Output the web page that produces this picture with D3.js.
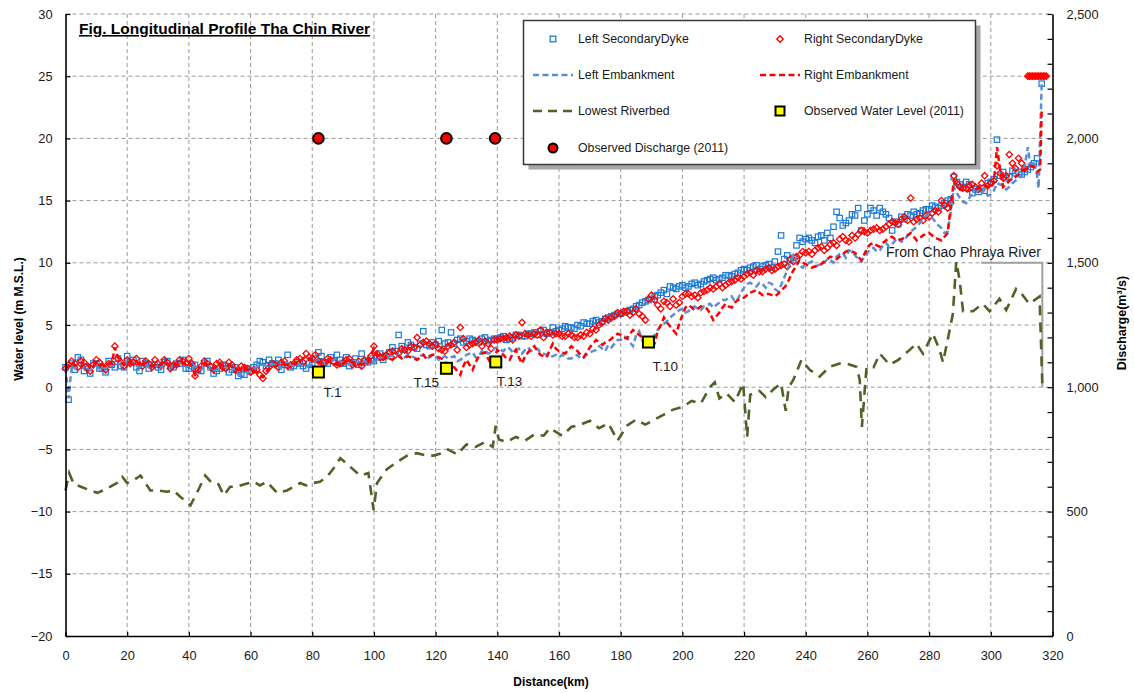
<!DOCTYPE html>
<html>
<head>
<meta charset="utf-8">
<script src="https://cdn.jsdelivr.net/npm/d3@7"></script>
<style>
  html, body { margin: 0; padding: 0; background: #fff; }
  svg { display: block; font-family: "Liberation Sans", Arial, Helvetica, sans-serif; }
</style>
</head>
<body>
<svg id="chart" width="1134" height="693"></svg>
<script>
// ---- Survey stations (km from river mouth), even chainages ----
const stationKm = [
  0,1,2,4,6,8,10,12,14,16,18,
  20,22,24,26,28,30,32,34,36,38,
  40,42,44,46,48,50,52,54,56,58,
  60,62,64,66,68,70,72,74,76,78,
  80,82,84,86,88,90,92,94,96,98,
  100,102,104,106,108,110,112,114,116,118,
  120,122,124,126,128,130,132,134,136,138,
  140,142,144,146,148,150,152,154,156,158,
  160,162,164,166,168,170,172,174,176,178,
  180,182,184,186,188,190,192,194,196,198,
  200,202,204,206,208,210,212,214,216,218,
  220,222,224,226,228,230,232,234,236,238,
  240,242,244,246,248,250,252,254,256,258,
  260,262,264,266,268,270,272,274,276,278,
  280,282,284,286,288,290,292,294,296,298,
  300,302,304,306,308,310,
  311,312,312.5,313,313.5,314,314.5,315,315.5,316,316.5,317,317.5,318
];
// Intermediate (odd) chainages
const infillKm = [
  3,5,7,9,11,13,15,17,19,
  21,23,25,27,29,31,33,35,37,39,
  41,43,45,47,49,51,53,55,57,59,
  61,63,65,67,69,71,73,75,77,79,
  81,83,85,87,89,91,93,95,97,99,
  101,103,105,107,109,111,113,115,117,119,
  121,123,125,127,129,131,133,135,137,139,
  141,143,145,147,149,151,153,155,157,159,
  161,163,165,167,169,171,173,175,177,179,
  181,183,185,187,189,191,193,195,197,199,
  201,203,205,207,209,211,213,215,217,219,
  221,223,225,227,229,231,233,235,237,239,
  241,243,245,247,249,251,253,255,257,259,
  261,263,265,267,269,271,273,275,277,279,
  281,283,285,287,289,291,293,295,297,299,
  301,303,305,307,309
];

// Crest levels (m M.S.L.); null = no survey at that station
const leftDyke = [
  1.6,-1.0,1.9,2.4,1.3,1.1,1.9,1.5,2.1,1.6,1.7,
  2.5,2.2,1.3,1.9,1.8,1.6,2.0,1.7,1.9,2.2,
  1.5,1.8,1.3,2.1,1.1,1.5,1.7,1.4,0.9,1.0,
  1.3,1.8,2.0,2.2,1.9,1.4,2.6,1.7,1.9,1.5,
  1.8,2.8,2.0,2.4,2.6,1.9,1.7,2.3,2.7,2.0,
  2.1,2.7,2.5,3.2,4.2,3.0,3.4,3.1,4.5,3.3,
  3.4,4.6,3.6,3.5,3.9,3.7,3.8,3.6,4.0,3.8,
  3.9,4.1,3.9,4.2,4.1,4.3,4.4,4.5,4.3,4.8,
  4.6,4.9,4.8,5.0,5.2,5.1,5.4,5.3,5.6,5.8,
  5.9,6.1,6.3,6.6,6.9,7.1,7.4,7.8,8.1,7.9,
  8.2,8.1,8.4,8.3,8.6,8.8,8.7,9.0,8.9,9.2,
  9.5,9.6,9.8,9.7,9.9,10.1,12.2,10.6,10.4,12.0,
  11.9,11.8,12.1,11.8,12.0,14.1,13.0,13.4,13.8,12.6,
  13.9,14.2,14.4,13.9,12.6,13.1,13.5,13.8,13.9,14.2,
  14.3,14.5,14.6,15.0,16.9,16.3,16.5,15.6,15.7,15.8,
  16.5,19.9,17.3,16.9,17.2,17.1,
  17.3,17.5,null,17.7,null,18.0,null,18.4,null,null,24.4,null,null,null
];
const leftDykeInfill = [
  1.4,2.2,1.6,1.9,1.5,1.2,1.8,2.3,1.6,
  2.0,1.6,2.1,1.5,1.8,1.4,2.1,1.6,1.9,1.5,
  1.7,1.4,1.9,1.6,1.3,1.8,1.2,1.6,1.1,1.5,
  1.6,2.1,1.7,1.9,2.2,1.8,1.6,2.0,1.7,1.9,
  2.3,2.5,1.9,2.1,2.2,2.4,2.0,1.8,2.1,2.3,
  2.4,2.2,2.8,2.9,3.3,3.6,3.2,3.5,3.4,3.6,
  3.7,3.5,4.4,3.8,3.6,3.9,3.7,3.9,3.7,3.9,
  4.0,3.8,4.0,4.2,4.1,4.3,4.2,4.6,4.4,4.5,
  4.7,4.8,4.7,4.9,5.1,5.3,5.2,5.5,5.7,5.9,
  6.0,6.2,6.5,6.8,7.0,7.3,7.6,7.5,8.0,8.1,
  8.0,8.3,8.2,8.5,8.7,8.6,8.8,9.0,9.1,9.4,
  9.4,9.7,9.5,9.8,9.6,10.9,10.3,10.2,11.4,11.7,
  12.0,11.6,12.2,12.4,12.9,13.6,13.2,13.9,14.4,13.4,
  14.4,13.8,14.1,13.6,13.3,13.7,13.9,14.1,14.0,14.3,
  14.6,14.4,14.8,15.1,16.5,16.1,16.3,15.9,16.0,16.4,
  16.7,17.0,16.8,17.4,17.3
];

const rightDyke = [
  1.5,1.8,2.1,1.6,2.0,1.3,2.2,1.7,1.9,3.3,2.0,
  2.2,2.0,1.8,2.1,1.6,1.9,2.2,1.5,1.8,2.1,
  2.3,0.9,1.7,1.9,1.4,2.0,1.5,1.8,1.3,1.6,
  1.2,1.4,0.7,1.6,1.8,2.0,1.7,1.9,2.3,2.7,
  2.3,2.1,1.9,2.2,1.8,2.0,2.3,1.9,1.7,2.1,
  3.3,2.4,2.6,2.9,2.7,3.0,3.3,4.0,3.6,3.5,
  3.5,3.0,3.3,3.6,4.8,3.2,3.5,3.8,3.7,3.1,
  3.8,3.9,4.1,4.2,5.2,4.2,4.3,4.6,4.4,4.2,
  4.3,4.1,4.2,4.0,4.1,4.3,4.6,5.2,5.4,5.7,
  5.9,6.1,6.0,5.9,5.4,7.4,6.6,6.9,6.5,6.6,
  7.3,7.5,7.4,7.6,7.8,7.9,8.3,8.2,8.5,8.8,
  8.9,9.2,9.4,9.3,9.6,9.5,9.8,9.7,10.1,10.6,
  10.8,10.7,11.2,11.0,11.5,11.4,12.1,11.7,12.0,12.6,
  12.4,12.7,12.6,12.9,13.3,13.1,13.7,15.2,13.5,13.4,
  13.7,14.2,15.0,14.4,17.0,16.1,16.0,16.3,15.9,17.0,
  16.4,17.8,16.8,18.7,17.6,18.0,
  17.6,25,25,25,25,25,25,25,25,25,25,25,25,25
];
const rightDykeInfill = [
  1.9,2.1,1.5,1.8,2.0,1.4,1.9,2.3,1.7,
  1.9,2.3,1.7,1.9,2.2,1.7,2.0,1.8,2.2,1.9,
  1.9,1.4,2.1,1.7,1.9,1.6,2.0,1.4,1.7,1.5,
  1.4,1.0,1.3,1.9,1.6,2.1,1.8,2.2,2.0,2.4,
  2.6,2.0,2.3,2.0,1.9,2.2,1.8,2.1,2.2,2.5,
  2.7,2.5,2.8,2.6,3.1,2.9,3.2,3.4,3.7,3.3,
  3.1,2.9,3.4,3.0,3.9,3.4,3.6,3.3,3.5,3.8,
  3.9,4.0,3.8,4.1,4.3,4.1,4.2,4.0,4.4,4.3,
  4.1,4.3,4.0,4.2,4.4,4.7,5.0,5.5,5.6,6.0,
  6.1,5.8,6.3,5.7,7.1,7.0,6.3,6.8,7.1,6.8,
  7.5,7.3,7.2,7.7,8.0,8.1,8.0,8.4,8.6,8.7,
  9.1,9.0,9.3,9.5,9.4,9.7,9.9,10.3,10.5,10.9,
  10.9,11.0,11.3,11.2,11.6,11.9,11.8,12.2,12.3,12.5,
  12.6,12.8,12.7,13.1,13.2,13.5,13.4,13.3,13.6,13.8,
  14.0,14.1,14.6,14.8,16.4,16.0,16.2,16.1,16.4,16.2,
  16.6,17.2,17.0,18.0,18.4
];

const leftEmbankment = [
  1.6,-0.9,1.7,1.9,1.5,1.4,1.7,1.6,1.8,1.7,1.8,
  2.2,2.0,1.6,1.8,1.7,1.6,1.9,1.7,1.8,2.0,
  1.6,1.7,1.4,1.8,1.3,1.5,1.6,1.4,1.0,1.1,
  1.3,1.6,1.8,1.9,1.8,1.5,2.1,1.7,1.8,1.6,
  1.8,2.2,2.0,2.1,2.3,1.9,1.8,2.1,2.2,2.0,
  2.0,2.4,2.3,2.5,2.6,2.4,2.5,2.3,2.6,2.4,
  2.5,2.4,2.3,2.5,2.2,2.6,2.8,2.5,3.0,2.8,
  3.2,2.9,3.1,3.0,2.7,3.2,3.0,2.8,2.6,2.5,
  2.4,2.5,2.3,2.6,2.4,2.8,3.0,3.1,3.4,3.5,
  3.8,4.0,3.3,4.5,4.0,3.6,4.6,5.1,5.6,6.0,
  6.3,6.1,6.5,6.2,6.6,6.4,6.8,7.0,7.3,7.1,
  8.0,8.4,8.1,8.3,8.4,7.9,8.2,9.4,10.6,9.8,
  9.9,10.1,9.8,10.0,10.2,10.5,10.8,11.0,10.6,10.1,
  10.8,11.2,11.0,11.6,11.5,12.0,11.8,12.5,12.9,13.5,
  13.9,13.3,12.8,12.5,16.1,15.2,14.8,15.6,15.7,15.9,
  15.5,16.4,16.2,16.1,16.6,17.0,
  17.8,19.3,null,17.5,null,18.2,null,17.0,16.0,null,24.4,null,null,null
];
const leftEmbankmentInfill = [
  1.5,1.8,1.6,1.7,1.4,1.5,1.7,1.9,1.6,
  1.9,1.7,1.8,1.6,1.8,1.5,1.8,1.6,1.9,1.7,
  1.6,1.5,1.7,1.6,1.4,1.7,1.4,1.5,1.1,1.2,
  1.5,1.9,1.7,1.8,1.9,1.7,1.8,1.9,1.7,1.8,
  2.0,2.1,1.9,2.2,2.1,2.0,1.9,2.0,2.1,2.1,
  2.2,2.3,2.5,2.4,2.3,2.6,2.4,2.5,2.3,2.6,
  2.2,2.5,2.4,2.1,2.4,2.7,2.4,2.9,2.7,3.1,
  3.0,3.2,2.8,3.1,3.0,2.9,3.1,2.7,2.4,2.6,
  2.6,2.3,2.5,2.3,2.6,2.9,3.3,2.9,3.2,3.8,
  4.1,3.6,4.2,3.8,3.5,4.2,4.9,5.3,5.8,6.2,
  6.0,6.4,6.3,6.5,6.7,6.6,7.0,7.2,6.9,7.6,
  8.3,8.2,8.4,8.0,8.3,7.7,8.8,10.0,10.1,9.6,
  10.0,9.7,9.9,10.3,10.0,10.7,10.4,10.9,10.3,10.5,
  11.1,10.9,11.4,11.3,11.8,11.7,12.2,12.7,13.2,13.8,
  13.6,13.0,12.4,14.0,15.6,14.9,15.2,15.9,15.6,15.4,
  15.8,16.3,15.9,16.4,16.8
];

const rightEmbankment = [
  1.5,1.7,2.0,1.7,1.9,1.5,2.0,1.8,1.9,3.2,2.0,
  2.1,2.0,1.8,2.0,1.7,1.9,2.1,1.6,1.8,2.0,
  2.1,1.0,1.7,1.8,1.5,1.9,1.6,1.7,1.4,1.6,
  1.3,1.2,0.8,1.5,1.7,1.9,1.8,1.9,2.1,2.5,
  2.2,2.0,1.9,2.1,1.8,1.9,2.2,1.9,1.8,2.0,
  3.1,2.3,2.4,2.2,2.5,2.3,2.4,2.2,2.6,2.5,
  2.6,2.3,1.9,1.6,1.0,2.2,1.4,2.5,2.8,1.9,
  3.0,2.6,2.2,3.0,1.9,2.8,3.3,2.6,2.4,3.5,
  2.9,2.7,3.3,2.9,2.4,3.2,3.8,3.4,3.7,4.1,
  4.2,3.9,4.6,4.2,3.8,3.3,4.5,5.6,4.9,4.3,
  5.8,6.6,6.2,6.5,6.3,5.4,6.0,6.7,6.4,7.0,
  7.2,7.6,7.8,7.4,7.5,7.3,7.8,8.3,9.4,10.2,
  9.9,9.6,9.8,10.1,10.5,10.3,10.7,11.0,10.8,10.2,
  11.2,11.6,11.3,11.8,12.1,11.8,12.0,12.4,11.8,12.2,
  12.4,12.0,11.8,12.4,16.6,15.9,15.7,15.9,16.0,16.2,
  16.0,19.3,16.1,16.6,16.9,17.4,
  17.5,17.6,null,17.8,null,17.7,null,17.3,null,17.5,22.3,null,null,null
];
const rightEmbankmentInfill = [
  1.8,1.6,2.0,1.7,1.8,1.6,1.9,2.4,1.8,
  1.9,2.1,1.7,1.9,1.8,1.8,1.9,1.7,1.9,1.8,
  1.6,1.4,1.9,1.6,1.7,1.7,1.8,1.5,1.5,1.4,
  1.2,1.0,1.2,1.6,1.8,1.8,1.9,2.0,2.3,2.3,
  2.1,2.0,2.0,1.9,2.0,2.1,2.0,1.9,1.9,2.6,
  2.6,2.2,2.3,2.4,2.3,2.5,2.3,2.4,2.3,2.6,
  2.4,2.0,1.7,1.3,1.7,1.8,2.0,2.7,2.3,2.4,
  2.8,2.3,2.7,2.4,2.5,3.1,2.9,2.5,3.0,3.1,
  2.8,3.0,3.1,2.6,2.8,3.5,3.6,3.6,3.9,4.3,
  4.0,4.3,4.4,4.0,3.5,3.5,5.0,5.2,4.6,5.1,
  6.4,6.4,6.3,6.4,5.9,5.7,6.4,6.5,6.8,7.1,
  7.4,7.7,7.6,7.5,7.4,7.5,8.0,8.9,9.8,10.0,
  9.7,9.7,9.9,10.3,10.4,10.5,10.9,10.9,10.5,10.7,
  11.5,11.4,11.6,12.0,11.9,11.9,12.2,12.1,12.0,12.3,
  12.2,11.9,12.1,14.5,16.2,15.8,15.8,15.9,16.1,16.1,
  16.5,17.5,16.3,16.8,17.1
];

// Lowest riverbed profile
const riverbedKm = [
  0,1.2,2.7,5,8.1,10.3,13,16.7,18.4,20,23.2,24.3,27.5,30,32.9,35,37.2,40.5,42.6,45.3,
  47.5,49.6,51.3,53.4,55.5,58,61,63,65.3,68.6,71.8,74,76.1,78,80.4,82.5,84.8,87,89.1,92.3,
  95.5,98.2,99.9,101,104.2,107,110.7,113.9,117,119.3,122,124,127,130,133,136,138.5,139.5,140.5,143,
  146,149,152,155,157,159,161,164,167,170,173,176,179,182,185,188,191,194,197,200,
  203,206,208.9,210.5,212,214.3,217,219.7,221,222,225,227,229.4,232,233.5,234.5,236,238.6,241.3,244.5,
  247.8,251,253.2,256.4,257.5,258.2,259.7,262,264,267.2,270,273.7,275.9,278,281.2,283.4,284.5,286.1,287.7,288.8,
  289.9,291,294.2,297.4,299.6,302.8,305,308.2,310,312.5,315.8,316.7
];
const riverbedLevel = [
  -8.3,-6.9,-7.8,-8.0,-8.3,-8.5,-8.2,-7.7,-7.2,-7.7,-7.3,-7.1,-8.3,-8.3,-8.4,-8.3,-8.8,-9.5,-8.5,-7.1,
  -7.7,-7.8,-8.7,-8.0,-8.0,-7.8,-7.6,-7.9,-7.6,-8.5,-8.3,-8.0,-7.7,-7.9,-7.7,-7.6,-7.2,-6.5,-5.7,-6.4,
  -7.1,-6.9,-9.9,-7.7,-6.6,-6.1,-5.5,-5.3,-5.5,-5.5,-5.3,-5.0,-5.4,-4.6,-4.8,-4.4,-4.8,-3.1,-4.2,-4.4,
  -4.0,-4.3,-3.8,-3.9,-3.3,-3.6,-3.9,-3.2,-3.0,-2.7,-3.3,-2.9,-4.3,-3.1,-2.6,-3.0,-2.6,-2.2,-1.8,-1.6,
  -1.1,-1.3,0.0,0.4,-0.9,-0.5,-1.2,0.3,-4.0,-0.6,-0.3,-0.8,-0.2,0.3,-1.9,0.0,0.6,2.2,1.4,0.85,
  1.65,1.9,1.9,1.65,0.6,-3.2,1.6,1.6,2.7,1.8,2.2,3.0,3.5,2.7,4.3,3.0,2.0,3.9,5.9,10.1,
  8.6,6.1,6.1,6.7,6.1,7.1,6.2,7.9,7.5,6.7,7.3,0.2
];

// Inflow from Chao Phraya River (discharge, m3/s)
const chaoPhrayaKm = [296.9, 316.7, 316.7];
const chaoPhrayaQ = [1500, 1500, 1000];

// Observations, 2011 flood
const obsStations = ["T.1", "T.15", "T.13", "T.10"];
const obsKm = [82, 123.5, 139.5, 189];
const obsLevel = [1.22, 1.52, 2.03, 3.63];
const obsQKm = [82, 123.5, 139.3];
const obsQ = [2000, 2000, 2000];

// Axis ticks
const levelTicks = [-20,-15,-10,-5,0,5,10,15,20,25,30];
const distanceTicks = [0,20,40,60,80,100,120,140,160,180,200,220,240,260,280,300,320];
const dischargeLabels = [0,500,1000,1500,2000,2500];

// ---------------------------------------------------------------------------
const svg = d3.select("#chart");
const ink = "#1a1a1a";

const x = d3.scaleLinear().domain([0, 320]).range([65.5, 1052.5]);
const y = d3.scaleLinear().domain([-20, 30]).range([636, 14]);
const yQ = d3.scaleLinear().domain([0, 2500]).range([636, 14]);

svg.append("rect").attr("width", 1134).attr("height", 693).attr("fill", "#fff");

// Grid
const grid = svg.append("g")
  .attr("stroke", "#9a9a9a").attr("stroke-width", 1).attr("stroke-dasharray", "4,3");
distanceTicks.filter(t => t > 0 && t < 320).forEach(t => {
  grid.append("line").attr("x1", x(t)).attr("x2", x(t)).attr("y1", y(30)).attr("y2", y(-20));
});
levelTicks.filter(t => t > -20).forEach(t => {
  grid.append("line").attr("x1", x(0)).attr("x2", x(320)).attr("y1", y(t)).attr("y2", y(t));
});

// Join even and odd chainages into one ordered profile
function profile(main, infill) {
  const a = stationKm.map((k, i) => ({ k, v: main[i] }));
  const b = infillKm.map((k, i) => ({ k, v: infill[i] }));
  return a.concat(b).filter(d => d.v != null).sort((p, q) => p.k - q.k);
}
const line = d3.line().x(d => x(d.k)).y(d => y(d.v));

const plot = svg.append("g");

// Inflow annotation
plot.append("path")
  .datum(chaoPhrayaKm.map((k, i) => ({ k, q: chaoPhrayaQ[i] })))
  .attr("d", d3.line().x(d => x(d.k)).y(d => yQ(d.q)))
  .attr("fill", "none").attr("stroke", "#a0a0a0").attr("stroke-width", 2);
plot.append("text").attr("x", 886).attr("y", 257)
  .attr("font-size", 14).attr("fill", ink).text("From Chao Phraya River");

// Left secondary dyke (squares)
plot.append("g").selectAll("rect").data(profile(leftDyke, leftDykeInfill)).join("rect")
  .attr("x", d => x(d.k) - 2.7).attr("y", d => y(d.v) - 2.7)
  .attr("width", 5.4).attr("height", 5.4)
  .attr("fill", "none").attr("stroke", "#1a7ad4").attr("stroke-width", 1.2);

// Right secondary dyke (diamonds)
const diamond = "M0,-3.2L3.2,0L0,3.2L-3.2,0Z";
plot.append("g").selectAll("path").data(profile(rightDyke, rightDykeInfill)).join("path")
  .attr("d", diamond)
  .attr("transform", d => `translate(${x(d.k)},${y(d.v)})`)
  .attr("fill", "none").attr("stroke", "#ff0000").attr("stroke-width", 1.3);

// Embankments
plot.append("path").datum(profile(leftEmbankment, leftEmbankmentInfill)).attr("d", line)
  .attr("fill", "none").attr("stroke", "#5b8fd2").attr("stroke-width", 2.5)
  .attr("stroke-dasharray", "6,3.5");
plot.append("path").datum(profile(rightEmbankment, rightEmbankmentInfill)).attr("d", line)
  .attr("fill", "none").attr("stroke", "#ff0000").attr("stroke-width", 2.5)
  .attr("stroke-dasharray", "6,3.5");

// Lowest riverbed
plot.append("path")
  .datum(riverbedKm.map((k, i) => ({ k, v: riverbedLevel[i] })))
  .attr("d", line)
  .attr("fill", "none").attr("stroke", "#4f6228").attr("stroke-width", 2.6)
  .attr("stroke-dasharray", "10,7");

// Observed water level
const obs = obsKm.map((k, i) => ({ k, v: obsLevel[i], name: obsStations[i] }));
plot.append("g").selectAll("rect").data(obs).join("rect")
  .attr("x", d => x(d.k) - 5.5).attr("y", d => y(d.v) - 5.5)
  .attr("width", 11).attr("height", 11)
  .attr("fill", "#ffff00").attr("stroke", "#000").attr("stroke-width", 2);

const labelOffset = { "T.1": [5, 25], "T.15": [-33, 19], "T.13": [1, 24], "T.10": [4, 29] };
plot.append("g").selectAll("text").data(obs).join("text")
  .attr("x", d => x(d.k) + labelOffset[d.name][0])
  .attr("y", d => y(d.v) + labelOffset[d.name][1])
  .attr("font-size", 13.5).attr("fill", ink).text(d => d.name);

// Observed discharge
plot.append("g").selectAll("circle")
  .data(obsQKm.map((k, i) => ({ k, q: obsQ[i] }))).join("circle")
  .attr("cx", d => x(d.k)).attr("cy", d => yQ(d.q)).attr("r", 5.3)
  .attr("fill", "#ff0000").attr("stroke", "#000").attr("stroke-width", 2);

// Axes
function styleAxis(g) {
  g.select(".domain").attr("stroke", "#000").attr("stroke-width", 1.6);
  g.selectAll(".tick line").attr("stroke", "#000").attr("stroke-width", 1.2);
  g.selectAll(".tick text").attr("fill", ink).attr("font-size", 12.8)
    .attr("font-family", '"Liberation Sans", Arial, sans-serif');
}
svg.append("g").attr("transform", `translate(${x(0)},0)`)
  .call(d3.axisLeft(y).tickValues(levelTicks).tickSizeInner(-5).tickSizeOuter(0)
    .tickPadding(13).tickFormat(d3.format("d")))
  .call(styleAxis);
svg.append("g").attr("transform", `translate(0,${y(-20)})`)
  .call(d3.axisBottom(x).tickValues(distanceTicks).tickSizeInner(-4).tickSizeOuter(0)
    .tickPadding(15).tickFormat(d3.format("d")))
  .call(styleAxis);
svg.append("g").attr("transform", `translate(${x(320)},0)`)
  .call(d3.axisRight(yQ).tickValues(d3.range(0, 2501, 100)).tickSizeInner(-5).tickSizeOuter(0)
    .tickPadding(14)
    .tickFormat(d => dischargeLabels.includes(d) ? d3.format(",")(d) : ""))
  .call(styleAxis);

// Axis titles
svg.append("text").attr("transform", "translate(22.5,319) rotate(-90)")
  .attr("text-anchor", "middle").attr("font-weight", "bold").attr("font-size", 12)
  .attr("fill", "#000").text("Water level (m M.S.L.)");
svg.append("text").attr("x", 551).attr("y", 686)
  .attr("text-anchor", "middle").attr("font-weight", "bold").attr("font-size", 12)
  .attr("fill", "#000").text("Distance(km)");
svg.append("text").attr("transform", "translate(1126,323) rotate(-90)")
  .attr("text-anchor", "middle").attr("font-weight", "bold").attr("font-size", 12.5)
  .attr("fill", "#000").text("Discharge(m³/s)");

// Title
svg.append("text").attr("x", 79).attr("y", 34)
  .attr("font-weight", "bold").attr("font-size", 15.5).attr("fill", "#000")
  .attr("text-decoration", "underline").text("Fig. Longitudinal Profile Tha Chin River");

// Legend
const lg = svg.append("g");
lg.append("rect").attr("x", 528.5).attr("y", 25.5).attr("width", 452).attr("height", 144)
  .attr("fill", "#a6a6a6");
lg.append("rect").attr("x", 523.5).attr("y", 20.5).attr("width", 452).attr("height", 144)
  .attr("fill", "#fff").attr("stroke", "#3a3a3a").attr("stroke-width", 1.5);

const legendItems = [
  { label: "Left SecondaryDyke", kind: "square" },
  { label: "Right SecondaryDyke", kind: "diamond" },
  { label: "Left Embankment", kind: "leftLine" },
  { label: "Right Embankment", kind: "rightLine" },
  { label: "Lowest Riverbed", kind: "bedLine" },
  { label: "Observed Water Level (2011)", kind: "obs" },
  { label: "Observed Discharge (2011)", kind: "flow" }
];
const colSym = [553, 780], colLine = [[533, 573], [760, 800]], colText = [578, 804];
const rowY = [39, 75, 111, 148];
legendItems.forEach((it, i) => {
  const c = i % 2, r = Math.floor(i / 2), cy = rowY[r], cx = colSym[c];
  const g = lg.append("g");
  if (it.kind === "square") {
    g.append("rect").attr("x", cx - 2.8).attr("y", cy - 2.8).attr("width", 5.6).attr("height", 5.6)
      .attr("fill", "none").attr("stroke", "#1a7ad4").attr("stroke-width", 1.3);
  } else if (it.kind === "diamond") {
    g.append("path").attr("d", diamond).attr("transform", `translate(${cx},${cy})`)
      .attr("fill", "none").attr("stroke", "#ff0000").attr("stroke-width", 1.4);
  } else if (it.kind === "obs") {
    g.append("rect").attr("x", cx - 4.5).attr("y", cy - 4.5).attr("width", 9).attr("height", 9)
      .attr("fill", "#ffff00").attr("stroke", "#000").attr("stroke-width", 2);
  } else if (it.kind === "flow") {
    g.append("circle").attr("cx", cx).attr("cy", cy).attr("r", 4.5)
      .attr("fill", "#ff0000").attr("stroke", "#000").attr("stroke-width", 2);
  } else {
    const sty = {
      leftLine: ["#5b8fd2", "6,3.5", 2.5],
      rightLine: ["#ff0000", "6,3.5", 2.5],
      bedLine: ["#4f6228", "9,6", 2.6]
    }[it.kind];
    g.append("line").attr("x1", colLine[c][0]).attr("x2", colLine[c][1])
      .attr("y1", cy).attr("y2", cy)
      .attr("stroke", sty[0]).attr("stroke-dasharray", sty[1]).attr("stroke-width", sty[2]);
  }
  g.append("text").attr("x", colText[c]).attr("y", cy).attr("dy", "0.36em")
    .attr("font-size", 12.3).attr("fill", ink).text(it.label);
});
</script>
</body>
</html>
